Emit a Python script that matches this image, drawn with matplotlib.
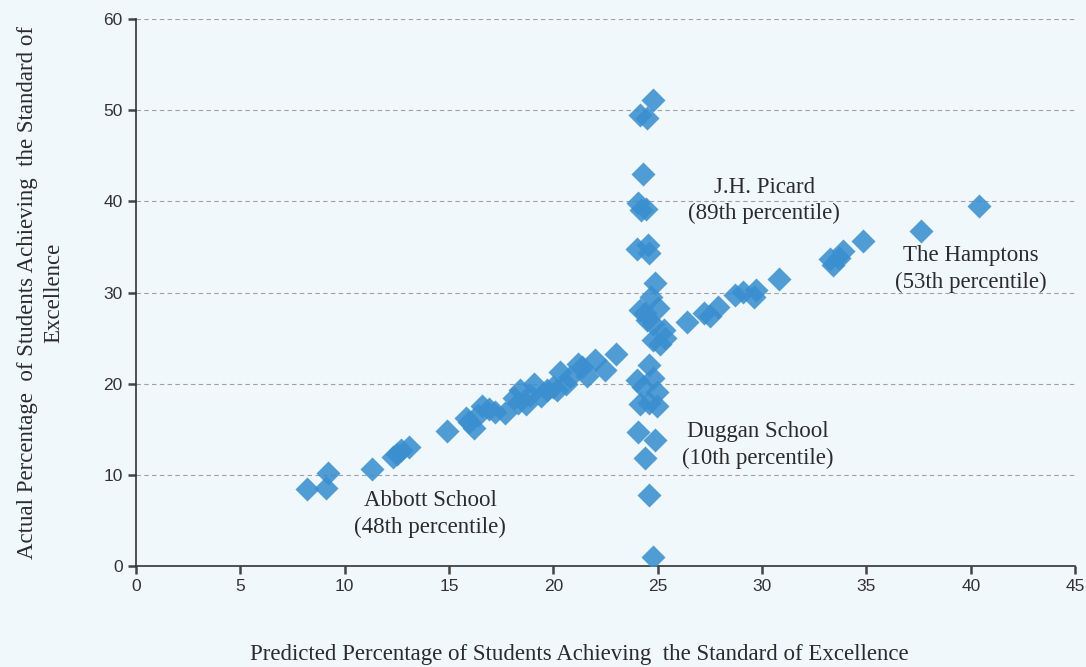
import numpy as np
import matplotlib
matplotlib.use('Agg')
import matplotlib.pyplot as plt

# predicted vs actual percentage
pred = [8.2, 9.1, 9.2, 11.3, 12.3, 12.5, 12.7, 13.1, 14.9,
        15.8, 15.95, 16.2, 16.4, 16.6, 16.9, 17.2, 17.7, 18.1, 18.3, 18.4, 18.7,
        18.9, 19.1, 19.4, 19.7, 20.0, 20.2, 20.3, 20.6, 20.8, 21.2, 21.4, 21.6,
        22.0, 22.5, 23.0,
        24.8, 24.15, 24.5, 24.3, 24.07, 24.2, 24.45, 24.0, 24.55, 24.6, 24.87,
        24.7, 24.15, 25.0, 24.5, 24.8, 25.3, 24.8, 25.35, 25.1, 24.4,
        24.6, 24.0, 24.8, 24.95, 24.3, 24.15, 24.95, 24.6,
        24.07, 24.85, 24.4, 24.6, 24.8,
        26.4, 27.2, 27.5, 27.9, 28.7, 29.1, 29.6, 29.7, 30.8, 33.25, 33.4, 33.7,
        33.9, 34.85, 37.6, 40.4]
actual = [8.4, 8.6, 10.2, 10.6, 12.0, 12.3, 12.7, 13.1, 14.8,
          16.2, 15.8, 15.1, 16.6, 17.5, 17.2, 16.9, 16.8, 18.4, 17.9, 19.3, 17.8,
          18.8, 20.0, 18.6, 19.3, 19.6, 19.3, 21.3, 20.0, 20.7, 22.2, 21.8, 20.8,
          22.6, 21.5, 23.3,
          51.1, 49.5, 49.1, 43.0, 39.8, 39.0, 39.2, 34.8, 35.2, 34.3, 31.0,
          29.5, 28.1, 28.3, 27.0, 26.6, 25.9, 24.8, 25.0, 24.3, 27.8,
          22.0, 20.4, 20.6, 19.1, 19.6, 17.8, 17.5, 17.9,
          14.7, 13.8, 11.8, 7.8, 1.0,
          26.8, 27.7, 27.4, 28.4, 29.7, 30.1, 29.5, 30.3, 31.5, 33.7, 33.0, 33.8,
          34.6, 35.6, 36.8, 39.5]

labels = ['J.H. Picard\n(89th percentile)', 'The Hamptons\n(53th percentile)',
          'Duggan School\n(10th percentile)', 'Abbott School\n(48th percentile)']
label_x = [30.1, 40.0, 29.8, 14.1]
label_y = [40.1, 32.6, 13.3, 5.7]

bg = '#f1f8fc'
serif = ['Liberation Serif', 'DejaVu Serif']
sans = ['Liberation Sans', 'DejaVu Sans']

fig = plt.figure(figsize=(10.86, 6.67), dpi=100, facecolor=bg)
ax = fig.add_axes([0.125, 0.1514, 0.865, 0.8201], facecolor=bg)

ax.scatter(pred, actual, marker='D', s=150, color='#3a8fd0', alpha=0.88,
           linewidths=0, zorder=3)

for t, x, y in zip(labels, label_x, label_y):
    ax.text(x, y, t, ha='center', va='center', fontsize=16.5, family=serif,
            color='#2b2b2b', linespacing=1.35, zorder=4)

ax.set_xlim(0, 45)
ax.set_ylim(0, 60)
ax.set_xticks(np.arange(0, 46, 5))
ax.set_yticks(np.arange(0, 61, 10))
ax.yaxis.grid(True, linestyle=(0, (4, 3)), color='#a0a0a0', linewidth=0.8)
ax.set_axisbelow(True)

for s in ['top', 'right']:
    ax.spines[s].set_visible(False)
for s in ['left', 'bottom']:
    ax.spines[s].set_color('#333333')
    ax.spines[s].set_linewidth(1.2)

ax.tick_params(axis='both', direction='out', length=6, width=1.8, color='#444444',
               labelsize=12.5, labelcolor='#333333')
for lab in ax.get_xticklabels() + ax.get_yticklabels():
    lab.set_family(sans)

ax.set_xlabel('Predicted Percentage of Students Achieving  the Standard of Excellence',
              family=serif, fontsize=16.5, color='#2b2b2b', va='center')
ax.xaxis.set_label_coords(0.472, -0.162)
ax.set_ylabel('Actual Percentage  of Students Achieving  the Standard of\nExcellence',
              family=serif, fontsize=16.5, color='#2b2b2b', labelpad=28,
              linespacing=1.35)

plt.savefig('out.png', dpi=100, facecolor=bg)
plt.close()
